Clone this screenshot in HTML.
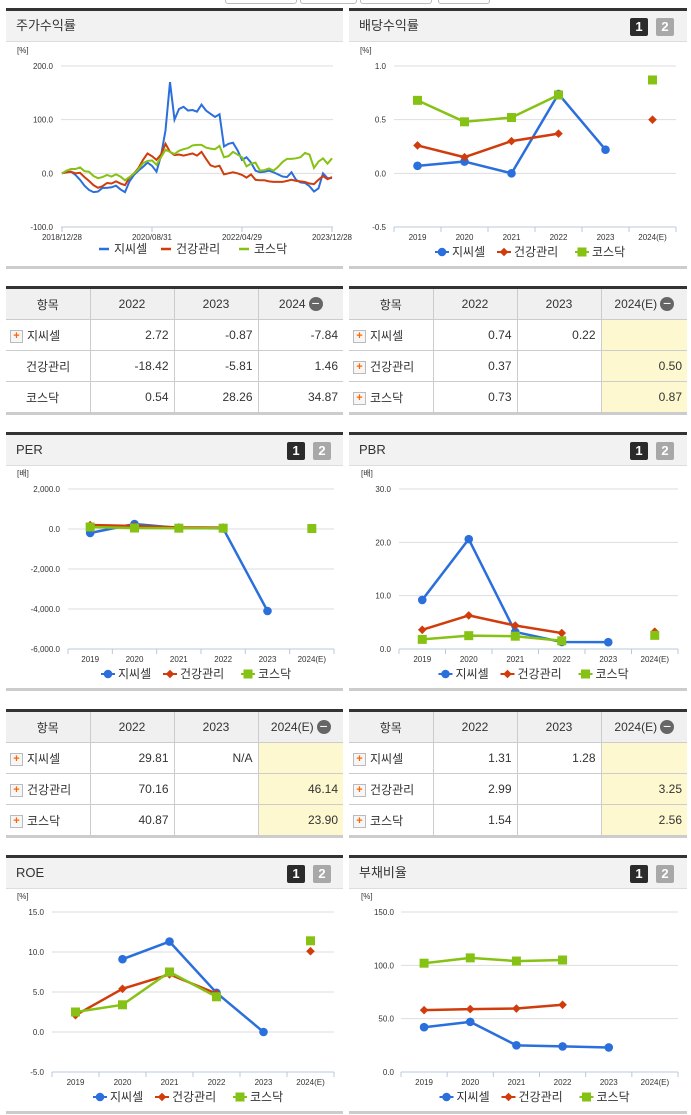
<!DOCTYPE html>
<html><head><meta charset="utf-8">
<style>
body{margin:0;width:691px;height:1115px;background:#fff;position:relative;overflow:hidden;font-family:"Liberation Sans","Noto Sans CJK KR",sans-serif;color:#333}
.abs{position:absolute}
.panel{position:absolute;border-top:3px solid #333;border-bottom:3px solid #ccc;box-sizing:border-box}
.phead{position:absolute;left:0;right:0;top:0;height:30px;background:#f2f2f2;border-bottom:1px solid #ddd;font-size:13px;line-height:30px;padding-left:10px;font-family:"Liberation Sans","Noto Sans CJK KR",sans-serif}
.b1,.b2{position:absolute;top:7px;width:18px;height:18px;color:#fff;font-size:13px;font-weight:bold;line-height:18px;text-align:center;border-radius:2px}
.b1{background:#2b2b2b}.b2{background:#a8a8a8}
table{position:absolute;border-collapse:collapse;table-layout:fixed;font-size:12px;border-top:3px solid #333;border-bottom:3px solid #ccc}
td,th{border:1px solid #ccc;height:30px;padding:0 5px;font-weight:normal;white-space:nowrap;overflow:hidden}
th{background:#f0f0f0;text-align:center;height:30px}
td{text-align:right}
td.n{text-align:left;padding-left:4px}
tr td:first-child,tr th:first-child{border-left:none}
tr td:last-child,tr th:last-child{border-right:none}
.y{background:#fdf8d0}
.plus{display:inline-block;width:11px;height:11px;border:1px solid #bbb;background:#f6f6f6;color:#f60;font-size:11px;line-height:10px;text-align:center;vertical-align:middle;margin-right:4px;font-weight:bold}
.minus{display:inline-block;width:14px;height:14px;border-radius:7px;background:#666;color:#fff;line-height:13px;font-size:14px;text-align:center;vertical-align:middle;margin-left:3px}
</style></head><body>
<div class="abs" style="left:225px;top:-6px;width:70px;height:8px;border:1px solid #bbb;border-radius:3px"></div>
<div class="abs" style="left:300px;top:-6px;width:55px;height:8px;border:1px solid #bbb;border-radius:3px"></div>
<div class="abs" style="left:360px;top:-6px;width:70px;height:8px;border:1px solid #bbb;border-radius:3px"></div>
<div class="abs" style="left:438px;top:-6px;width:50px;height:8px;border:1px solid #bbb;border-radius:3px"></div>

<div class="panel" style="left:6px;top:8px;width:337px;height:261px"><div class="phead">주가수익률</div></div>
<div class="panel" style="left:349px;top:8px;width:338px;height:261px"><div class="phead">배당수익률</div><div class="b1" style="left:281px">1</div><div class="b2" style="left:307px">2</div></div>
<div class="panel" style="left:6px;top:432px;width:337px;height:259px"><div class="phead">PER</div><div class="b1" style="left:281px">1</div><div class="b2" style="left:307px">2</div></div>
<div class="panel" style="left:349px;top:432px;width:338px;height:259px"><div class="phead">PBR</div><div class="b1" style="left:281px">1</div><div class="b2" style="left:307px">2</div></div>
<div class="panel" style="left:6px;top:855px;width:337px;height:259px"><div class="phead">ROE</div><div class="b1" style="left:281px">1</div><div class="b2" style="left:307px">2</div></div>
<div class="panel" style="left:349px;top:855px;width:338px;height:259px"><div class="phead">부채비율</div><div class="b1" style="left:281px">1</div><div class="b2" style="left:307px">2</div></div>

<table style="left:6px;top:286px;width:337px">
<colgroup><col style="width:84px"><col style="width:84px"><col style="width:84px"><col style="width:85px"></colgroup>
<tr><th>항목</th><th>2022</th><th>2023</th><th>2024<span class="minus">−</span></th></tr>
<tr><td class="n"><span class="plus">+</span>지씨셀</td><td>2.72</td><td>-0.87</td><td>-7.84</td></tr>
<tr><td class="n" style="padding-left:20px">건강관리</td><td>-18.42</td><td>-5.81</td><td>1.46</td></tr>
<tr><td class="n" style="padding-left:20px">코스닥</td><td>0.54</td><td>28.26</td><td>34.87</td></tr>
</table>
<table style="left:349px;top:286px;width:338px">
<colgroup><col style="width:84px"><col style="width:84px"><col style="width:84px"><col style="width:86px"></colgroup>
<tr><th>항목</th><th>2022</th><th>2023</th><th>2024(E)<span class="minus">−</span></th></tr>
<tr><td class="n"><span class="plus">+</span>지씨셀</td><td>0.74</td><td>0.22</td><td class="y"></td></tr>
<tr><td class="n"><span class="plus">+</span>건강관리</td><td>0.37</td><td></td><td class="y">0.50</td></tr>
<tr><td class="n"><span class="plus">+</span>코스닥</td><td>0.73</td><td></td><td class="y">0.87</td></tr>
</table>
<table style="left:6px;top:709px;width:337px">
<colgroup><col style="width:84px"><col style="width:84px"><col style="width:84px"><col style="width:85px"></colgroup>
<tr><th>항목</th><th>2022</th><th>2023</th><th>2024(E)<span class="minus">−</span></th></tr>
<tr><td class="n"><span class="plus">+</span>지씨셀</td><td>29.81</td><td>N/A</td><td class="y"></td></tr>
<tr><td class="n"><span class="plus">+</span>건강관리</td><td>70.16</td><td></td><td class="y">46.14</td></tr>
<tr><td class="n"><span class="plus">+</span>코스닥</td><td>40.87</td><td></td><td class="y">23.90</td></tr>
</table>
<table style="left:349px;top:709px;width:338px">
<colgroup><col style="width:84px"><col style="width:84px"><col style="width:84px"><col style="width:86px"></colgroup>
<tr><th>항목</th><th>2022</th><th>2023</th><th>2024(E)<span class="minus">−</span></th></tr>
<tr><td class="n"><span class="plus">+</span>지씨셀</td><td>1.31</td><td>1.28</td><td class="y"></td></tr>
<tr><td class="n"><span class="plus">+</span>건강관리</td><td>2.99</td><td></td><td class="y">3.25</td></tr>
<tr><td class="n"><span class="plus">+</span>코스닥</td><td>1.54</td><td></td><td class="y">2.56</td></tr>
</table>

<svg id="sv" width="691" height="1115" style="position:absolute;left:0;top:0"></svg>
<script>
const years = ["2019","2020","2021","2022","2023","2024(E)"];
const seriesNames = ["지씨셀","건강관리","코스닥"];
const colors = ["#2a6fdb","#d03c0c","#86c214"];
// stock return (monthly, 2018/12 .. 2024/01)
const stockDates = ["2018/12/28","2020/08/31","2022/04/29","2023/12/28"];
const stockGC = [0,2,3,-3,-12,-23,-31,-35,-34,-27,-27,-26,-23,-30,-35,-15,-3,5,12,20,14,3,33,80,170,100,120,124,117,118,115,128,117,111,105,110,50,55,57,43,25,30,20,5,2,3,5,2,-2,-6,-7,2,-12,-17,-18,-24,-34,-28,0,-9,-9];
const stockHealth = [0,2,3,0,1,-7,-14,-22,-27,-24,-18,-19,-15,-19,-22,-8,0,10,25,37,32,25,35,55,40,34,35,33,35,37,33,40,27,15,12,14,-2,0,2,0,-3,-8,-2,-12,-13,-13,-15,-16,-16,-16,-14,-12,-14,-15,-16,-19,-20,-12,-5,-11,-7];
const stockKosdaq = [0,5,8,8,11,4,3,-5,-9,-7,-3,-6,-2,-6,-13,-7,0,8,19,23,24,16,30,44,40,36,42,45,47,52,53,53,48,46,45,51,30,32,40,35,30,13,18,20,5,6,9,5,12,21,27,27,28,30,38,35,10,22,28,18,28];
const stockTicks = [200,100,0,-100];
// dividend
const divGC = [0.07,0.11,0.0,0.74,0.22,null];
const divHealth = [0.26,0.15,0.30,0.37,null,0.50];
const divKosdaq = [0.68,0.48,0.52,0.73,null,0.87];
const divTicks = [1.0,0.5,0.0,-0.5];
// PER
const perGC = [-200,250,50,29.81,-4100,null];
const perHealth = [200,150,80,70.16,null,46.14];
const perKosdaq = [100,50,40,40.87,null,23.90];
const perTicks = [2000,0,-2000,-4000,-6000];
// PBR
const pbrGC = [9.2,20.6,3.2,1.31,1.28,null];
const pbrHealth = [3.6,6.3,4.4,2.99,null,3.25];
const pbrKosdaq = [1.8,2.5,2.4,1.54,null,2.56];
const pbrTicks = [30,20,10,0];
// ROE
const roeGC = [null,9.1,11.3,4.9,0.0,null];
const roeHealth = [2.1,5.4,7.2,4.8,null,10.1];
const roeKosdaq = [2.5,3.4,7.5,4.4,null,11.4];
const roeTicks = [15,10,5,0,-5];
// debt ratio
const debtGC = [42,47,25,24,23,null];
const debtHealth = [58,59,59.5,63,null,null];
const debtKosdaq = [102,107,104,105,null,null];
const debtTicks = [150,100,50,0];

const NS="http://www.w3.org/2000/svg";
const sv=document.getElementById('sv');
function mk(tag,attrs,parent){const e=document.createElementNS(NS,tag);for(const k in attrs)e.setAttribute(k,attrs[k]);(parent||sv).appendChild(e);return e;}
function fmt(v){return v.toLocaleString('en-US',{minimumFractionDigits:1,maximumFractionDigits:1});}

function drawAxes(g,c,ticks,unit){
  const ys=v=>c.top+(ticks[0]-v)/(ticks[0]-ticks[ticks.length-1])*(c.bot-c.top);
  const u=mk('text',{x:c.ux,y:c.top-13,'font-size':8,fill:'#333'},g);u.textContent=unit;
  
  
  ticks.forEach((t,i)=>{
    if(i<ticks.length-1){const l=mk('line',{x1:c.x0,x2:c.x1,y1:ys(t),y2:ys(t),stroke:'#ddd'},g);
      
      }
    const tx=mk('text',{x:c.lx,y:ys(t)+3,'font-size':8,'text-anchor':'end',fill:'#333'},g);tx.textContent=fmt(t);
    
    
  });
  const ax=mk('line',{x1:c.x0,x2:c.x1,y1:c.bot,y2:c.bot,stroke:'#b8c8dc'},g);
  
  
  return ys;
}
function legend(g,cx,y,kind){
  const w=[62,78,56];let x=cx-98;
  seriesNames.forEach((n,i)=>{
    if(kind==='line'){mk('line',{x1:x,x2:x+10,y1:y,y2:y,stroke:colors[i],'stroke-width':2.5},g);}
    else{mk('line',{x1:x-2,x2:x+12,y1:y,y2:y,stroke:colors[i],'stroke-width':2},g);marker(g,x+5,y,i);}
    const t=mk('text',{x:x+15,y:y+4,'font-size':12,fill:'#333'},g);t.textContent=n;
    
    
    x+=w[i];
  });
}
function marker(g,x,y,i){
  let m;
  if(i===0)m=mk('circle',{cx:x,cy:y,r:4.3,fill:colors[0]},g);
  else if(i===1)m=mk('path',{d:`M${x} ${y-4.3}L${x+4.3} ${y}L${x} ${y+4.3}L${x-4.3} ${y}Z`,fill:colors[1]},g);
  else m=mk('rect',{x:x-4.5,y:y-4.5,width:9,height:9,fill:colors[2]},g);
  return m;
}
function yearChart(name,c,ticks,unit,series){
  const g=mk('g',{});
  
  
  const ys=drawAxes(g,c,ticks,unit);
  const step=(c.x1-c.x0)/years.length;
  const xs=i=>c.x0+step*(i+0.5);
  for(let i=0;i<=years.length;i++){mk('line',{x1:c.x0+step*i,x2:c.x0+step*i,y1:c.bot,y2:c.bot+5,stroke:'#b8c8dc'},g);}
  years.forEach((y,i)=>{const t=mk('text',{x:xs(i),y:c.bot+13,'font-size':8,'text-anchor':'middle',fill:'#333'},g);t.textContent=y;
    
    });
  series.forEach((arr,si)=>{
    let d='';
    for(let i=0;i<5;i++){ if(arr[i]!=null&&arr[i+1]!=null&&i+1<5){d+=`M${xs(i)} ${ys(arr[i])}L${xs(i+1)} ${ys(arr[i+1])}`;} }
    if(d){const p=mk('path',{d:d,stroke:colors[si],'stroke-width':2.5,fill:'none'},g);
      
      }
    arr.forEach((v,i)=>{if(v==null)return;const m=marker(g,xs(i),ys(v),si);
      
      });
  });
  legend(g,(c.x0+c.x1)/2,c.bot+25,'marker');
}
// stock chart
(function(){
  const g=mk('g',{});
  
  
  const c={x0:61,x1:333,top:66,bot:227,lx:53,ux:17};
  const ys=drawAxes(g,c,stockTicks,'[%]');
  const n=stockGC.length;
  const xs=i=>c.x0+1+i*(332-62)/(n-1);
  stockDates.forEach((d,i)=>{const x=xs(i*20);mk('line',{x1:x,x2:x,y1:c.bot,y2:c.bot+5,stroke:'#b8c8dc'},g);
    const t=mk('text',{x:x,y:c.bot+13,'font-size':8,'text-anchor':'middle',fill:'#333'},g);t.textContent=d;
    
    });
  [stockGC,stockHealth,stockKosdaq].forEach((arr,si)=>{
    const p=mk('polyline',{points:arr.map((v,i)=>xs(i)+','+ys(v)).join(' '),stroke:colors[si],'stroke-width':2,fill:'none'},g);
    
    
  });
  legend(g,197,c.bot+22,'line');
})();
yearChart('dividend-chart',{x0:394,x1:676,top:66,bot:227,lx:386,ux:360},divTicks,'[%]',[divGC,divHealth,divKosdaq]);
yearChart('per-chart',{x0:68,x1:334,top:489,bot:649,lx:60,ux:17},perTicks,'[배]',[perGC,perHealth,perKosdaq]);
yearChart('pbr-chart',{x0:399,x1:678,top:489,bot:649,lx:391,ux:361},pbrTicks,'[배]',[pbrGC,pbrHealth,pbrKosdaq]);
yearChart('roe-chart',{x0:52,x1:334,top:912,bot:1072,lx:44,ux:17},roeTicks,'[%]',[roeGC,roeHealth,roeKosdaq]);
yearChart('debt-ratio-chart',{x0:401,x1:678,top:912,bot:1072,lx:394,ux:361},debtTicks,'[%]',[debtGC,debtHealth,debtKosdaq]);
</script>
</body></html>
